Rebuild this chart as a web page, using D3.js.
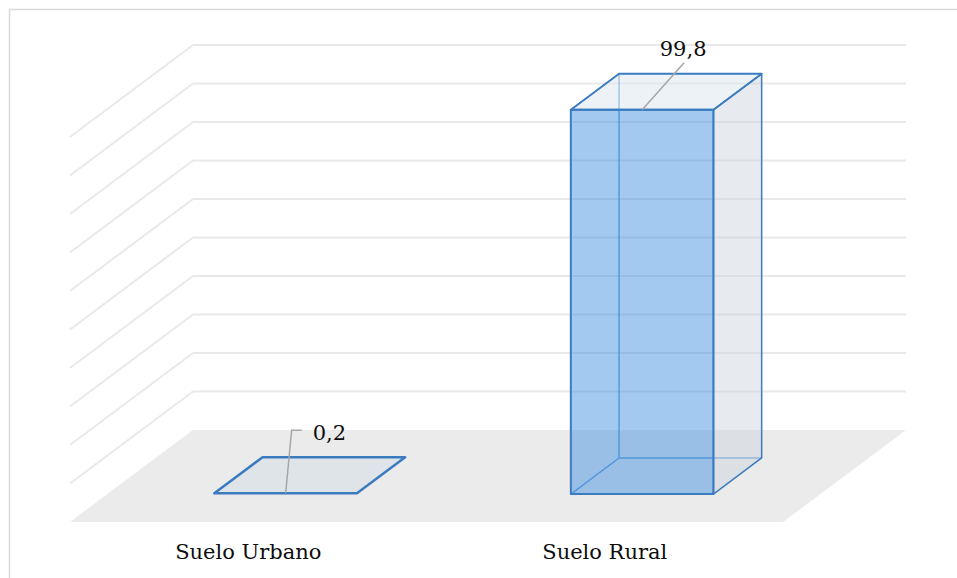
<!DOCTYPE html>
<html><head><meta charset="utf-8">
<script src="https://cdn.jsdelivr.net/npm/d3@7"></script>
<style>body{margin:0;background:#fff}svg{display:block}</style>
</head><body>
<script>
const categories = ["Suelo Urbano", "Suelo Rural"];
const values = [0.2, 99.8];
const valueLabels = ["0,2", "99,8"];
const gridTicks = [0,10,20,30,40,50,60,70,80,90,100];

const W = 957, H = 578;
const svg = d3.select("body").append("svg").attr("width", W).attr("height", H);

// outer chart border
svg.append("rect").attr("x", 9.5).attr("y", 9.5).attr("width", 960).attr("height", 600)
  .attr("fill", "#fff").attr("stroke", "#d9d9d9").attr("stroke-width", 1.5);

// 3D projection parameters
const ox = 70, oy = 522;            // front-left corner of floor
const floorW = 713;
const depthX = 123, depthY = -92;   // full depth vector
const x = d3.scaleBand().domain(categories).range([0, floorW]).paddingInner(0).paddingOuter(0);
const y = d3.scaleLinear().domain([0, 100]).range([0, 385]);
const P = (xf, v, z) => [ox + xf + depthX * z, oy + depthY * z - y(v)];
const line = d3.line();

// back wall and side wall gridlines
const grid = svg.append("g");
gridTicks.forEach(t => {
  if (t > 0) {
    grid.append("path").attr("d", line([P(0, t, 1), P(floorW, t, 1)]))
      .attr("stroke", "#e9e9e9").attr("stroke-width", 2).attr("fill", "none");
    grid.append("path").attr("d", line([P(0, t, 0), P(0, t, 1)]))
      .attr("stroke", "#e9e9e9").attr("stroke-width", 2).attr("fill", "none");
  }
});

// floor
svg.append("path").attr("d", line([P(0,0,0), P(floorW,0,0), P(floorW,0,1), P(0,0,1)]) + "Z")
  .attr("fill", "#ebebeb");

// bars
const z0 = 0.304, z1 = 0.696;
const barFrac = 0.4;
const blue = "#3b7cc0";
const bars = svg.append("g");
categories.forEach((c, i) => {
  const v = values[i];
  const bw = x.bandwidth() * barFrac;
  const xl = x(c) + (x.bandwidth() - bw) / 2, xr = xl + bw;
  const g = bars.append("g");
  if (v > 1) {
    // hidden back edges
    g.append("path").attr("d", line([P(xl,0,z0), P(xl,0,z1), P(xr,0,z1)]) + "M" + P(xl,0,z1) + "L" + P(xl,v,z1))
      .attr("stroke", "#4a8cd0").attr("stroke-width", 1.5).attr("fill", "none").attr("opacity", 0.8);
    // right face
    g.append("path").attr("d", line([P(xr,0,z0), P(xr,0,z1), P(xr,v,z1), P(xr,v,z0)]) + "Z")
      .attr("fill", "#c9d3de").attr("fill-opacity", 0.45).attr("stroke", blue).attr("stroke-width", 1.5).attr("stroke-linejoin", "round");
    // top face
    g.append("path").attr("d", line([P(xl,v,z0), P(xr,v,z0), P(xr,v,z1), P(xl,v,z1)]) + "Z")
      .attr("fill", "#dce5ee").attr("fill-opacity", 0.5).attr("stroke", blue).attr("stroke-width", 2).attr("stroke-linejoin", "round");
    // front face
    g.append("path").attr("d", line([P(xl,0,z0), P(xr,0,z0), P(xr,v,z0), P(xl,v,z0)]) + "Z")
      .attr("fill", "#3f8fe0").attr("fill-opacity", 0.48).attr("stroke", blue).attr("stroke-width", 2).attr("stroke-linejoin", "round");
  } else {
    g.append("path").attr("d", line([P(xl,v,z0), P(xr,v,z0), P(xr,v,z1), P(xl,v,z1)]) + "Z")
      .attr("fill", "#dfe4e9").attr("stroke", blue).attr("stroke-width", 2.5).attr("stroke-linejoin", "round");
  }
});

// value labels with leader lines
const lab = svg.append("g").attr("font-family", "DejaVu Serif").attr("font-size", 21).attr("fill", "#0d0d0d");
categories.forEach((c, i) => {
  const v = values[i];
  const xc = x(c) + x.bandwidth() / 2;
  const a = P(xc, v, z0);
  if (v > 1) {
    const b = [a[0] + 42, a[1] - 47];
    lab.append("path").attr("d", line([a, b])).attr("stroke", "#a6a6a6").attr("stroke-width", 1.5).attr("fill", "none");
    lab.append("text").attr("x", b[0] - 1).attr("y", b[1] - 7).attr("text-anchor", "middle").text(valueLabels[i]);
  } else {
    const b = [a[0] + 6, a[1] - 63];
    const cpt = [b[0] + 10, b[1]];
    lab.append("path").attr("d", line([a, b, cpt])).attr("stroke", "#a6a6a6").attr("stroke-width", 1.5).attr("fill", "none");
    lab.append("text").attr("x", cpt[0] + 11).attr("y", b[1] + 10).attr("text-anchor", "start").text(valueLabels[i]);
  }
});

// category labels
svg.append("g").attr("font-family", "DejaVu Serif").attr("font-size", 21).attr("fill", "#0d0d0d")
  .selectAll("text").data(categories).join("text")
  .attr("x", d => ox + x(d) + x.bandwidth() / 2)
  .attr("y", 559).attr("text-anchor", "middle").text(d => d);
</script>
</body></html>
